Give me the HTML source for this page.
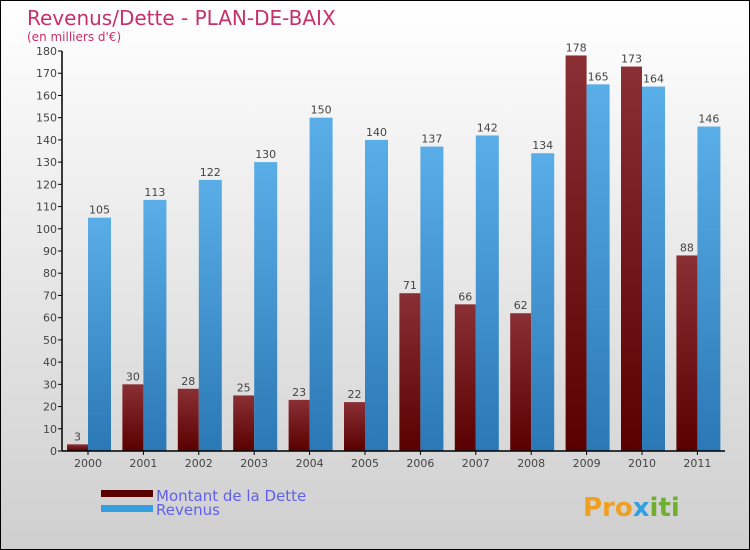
<!DOCTYPE html>
<html><head><meta charset="utf-8"><style>
body{margin:0;}
#c{position:relative;width:750px;height:550px;box-sizing:border-box;border:1px solid #000;background:linear-gradient(#ffffff,#cfcfcf);font-family:"DejaVu Sans","Liberation Sans",sans-serif;overflow:hidden}
svg{position:absolute;left:0;top:0}
</style></head><body>
<div id="c">
<svg id="s" width="750" height="550">
<defs>
<linearGradient id="gd" x1="0" y1="0" x2="0" y2="1"><stop offset="0" stop-color="#8a3035"/><stop offset="1" stop-color="#5a0000"/></linearGradient>
<linearGradient id="gr" x1="0" y1="0" x2="0" y2="1"><stop offset="0" stop-color="#5aaee8"/><stop offset="1" stop-color="#2a78b5"/></linearGradient>
</defs>
<text x="26" y="24" font-size="20" fill="#c8306a">Revenus/Dette - PLAN-DE-BAIX</text>
<text x="26" y="40" font-size="12" fill="#c8306a">(en milliers d'€)</text>
<g id="g"></g>
<rect x="100" y="489" width="52" height="7" fill="#5a0000"/>
<rect x="100" y="504" width="52" height="7" fill="#35a0e0"/>
<text x="155" y="500" font-size="15" fill="#6060f0">Montant de la Dette</text>
<text x="155" y="514" font-size="15" fill="#6060f0">Revenus</text>
<text x="582" y="515" font-size="26" font-weight="bold" fill="#f0a020">Pro<tspan fill="#30a0e0">x</tspan><tspan fill="#70b030">iti</tspan></text>
</svg></div>
<script>
const years=["2000","2001","2002","2003","2004","2005","2006","2007","2008","2009","2010","2011"];
const dette=[3,30,28,25,23,22,71,66,62,178,173,88];
const revenus=[105,113,122,130,150,140,137,142,134,165,164,146];
const yTicks=[0,10,20,30,40,50,60,70,80,90,100,110,120,130,140,150,160,170,180];
const NS="http://www.w3.org/2000/svg";
const g=document.getElementById('g');
const x0=61,x1=724,y0=450,yTop=50,yMax=180;
const yS=v=>y0-v*(y0-yTop)/yMax;
const step=55.4;
const xC=i=>87+i*step;
function mk(t,a){const e=document.createElementNS(NS,t);for(const k in a)e.setAttribute(k,a[k]);g.appendChild(e);return e;}
yTicks.forEach(v=>{
 const l=mk('line',{x1:57,x2:61,y1:yS(v),y2:yS(v),stroke:'#000'});
 
 
 const t=mk('text',{x:56,y:yS(v)+4,'font-size':11,fill:'#444','text-anchor':'end'});t.textContent=v;
 
 
});
years.forEach((y,i)=>{
 const c=xC(i);
 const d=mk('rect',{x:c-21,y:yS(dette[i]),width:21,height:y0-yS(dette[i]),fill:'url(#gd)'});
 
 
 const r=mk('rect',{x:c,y:yS(revenus[i]),width:23,height:y0-yS(revenus[i]),fill:'url(#gr)'});
 
 
 const td=mk('text',{x:c-10.5,y:yS(dette[i])-4,'font-size':11,fill:'#444','text-anchor':'middle'});td.textContent=dette[i];
 
 
 const tr=mk('text',{x:c+11.5,y:yS(revenus[i])-4,'font-size':11,fill:'#444','text-anchor':'middle'});tr.textContent=revenus[i];
 
 
 const tk=mk('line',{x1:c,x2:c,y1:y0,y2:y0+4,stroke:'#000'});
 
 
 const tl=mk('text',{x:c,y:466,'font-size':11,fill:'#444','text-anchor':'middle'});tl.textContent=y;
 
 
});
const ya=mk('line',{x1:x0,x2:x0,y1:yTop,y2:y0,stroke:'#000','stroke-width':1.5});


const xa=mk('line',{x1:x0,x2:x1,y1:y0,y2:y0,stroke:'#000','stroke-width':1.5});


</script>
</body></html>
